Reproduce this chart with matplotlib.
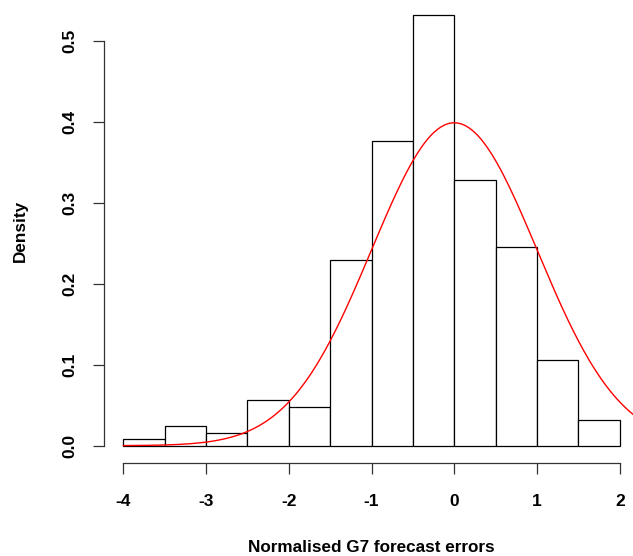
import numpy as np
import matplotlib
matplotlib.use("Agg")
import matplotlib.pyplot as plt

# histogram of normalised G7 forecast errors (density scale)
bin_edges = [-4.0, -3.5, -3.0, -2.5, -2.0, -1.5, -1.0, -0.5, 0.0, 0.5, 1.0, 1.5, 2.0]
densities = [0.008, 0.024, 0.016, 0.057, 0.048, 0.229, 0.376, 0.532, 0.328, 0.245, 0.106, 0.032]

# overlaid normal density
norm_mean = 0.0
norm_sd = 1.0

x_ticks = [-4, -3, -2, -1, 0, 1, 2]
y_ticks = [0.0, 0.1, 0.2, 0.3, 0.4, 0.5]

plt.rcParams['font.family'] = ['Liberation Sans', 'DejaVu Sans']
plt.rcParams['font.weight'] = 'bold'

fig = plt.figure(figsize=(6.33, 5.56), dpi=100)
ax = fig.add_axes([103.5 / 633, (556 - 463) / 556, (633 - 103.5) / 633, (463 - 2.3) / 556])

lefts = np.array(bin_edges[:-1])
widths = np.diff(bin_edges)
ax.bar(lefts, densities, width=widths, align='edge', color='white',
       edgecolor='black', linewidth=0.9)

xs = np.linspace(-4, 2.4, 400)
ys = np.exp(-0.5 * ((xs - norm_mean) / norm_sd) ** 2) / (norm_sd * np.sqrt(2 * np.pi))
ax.plot(xs, ys, color='red', linewidth=1.0)

ax.set_xlim(-4.24, 2.16)
ax.set_ylim(-0.0214, 0.5478)

for s in ['top', 'right']:
    ax.spines[s].set_visible(False)
ax.spines['bottom'].set_bounds(-4, 2)
ax.spines['left'].set_bounds(0, 0.5)
for s in ['bottom', 'left']:
    ax.spines[s].set_linewidth(0.9)
    ax.spines[s].set_color('#333333')

ax.set_xticks(x_ticks)
ax.set_xticklabels([str(t) for t in x_ticks])
ax.set_yticks(y_ticks)
ax.set_yticklabels(['%.1f' % t for t in y_ticks], rotation=90, va='center')
ax.tick_params(axis='both', length=8, width=0.9, color='#333333', labelsize=12.5)
ax.tick_params(axis='x', pad=14)
ax.tick_params(axis='y', pad=11)

fig.text(371.5 / 633, 1 - 547 / 556, 'Normalised G7 forecast errors',
         ha='center', va='center', fontsize=12.3, fontweight='bold')
fig.text(20 / 633, 1 - 231 / 556, 'Density', rotation=90,
         ha='center', va='center', fontsize=12.3, fontweight='bold')

fig.savefig('out.png', dpi=100)
